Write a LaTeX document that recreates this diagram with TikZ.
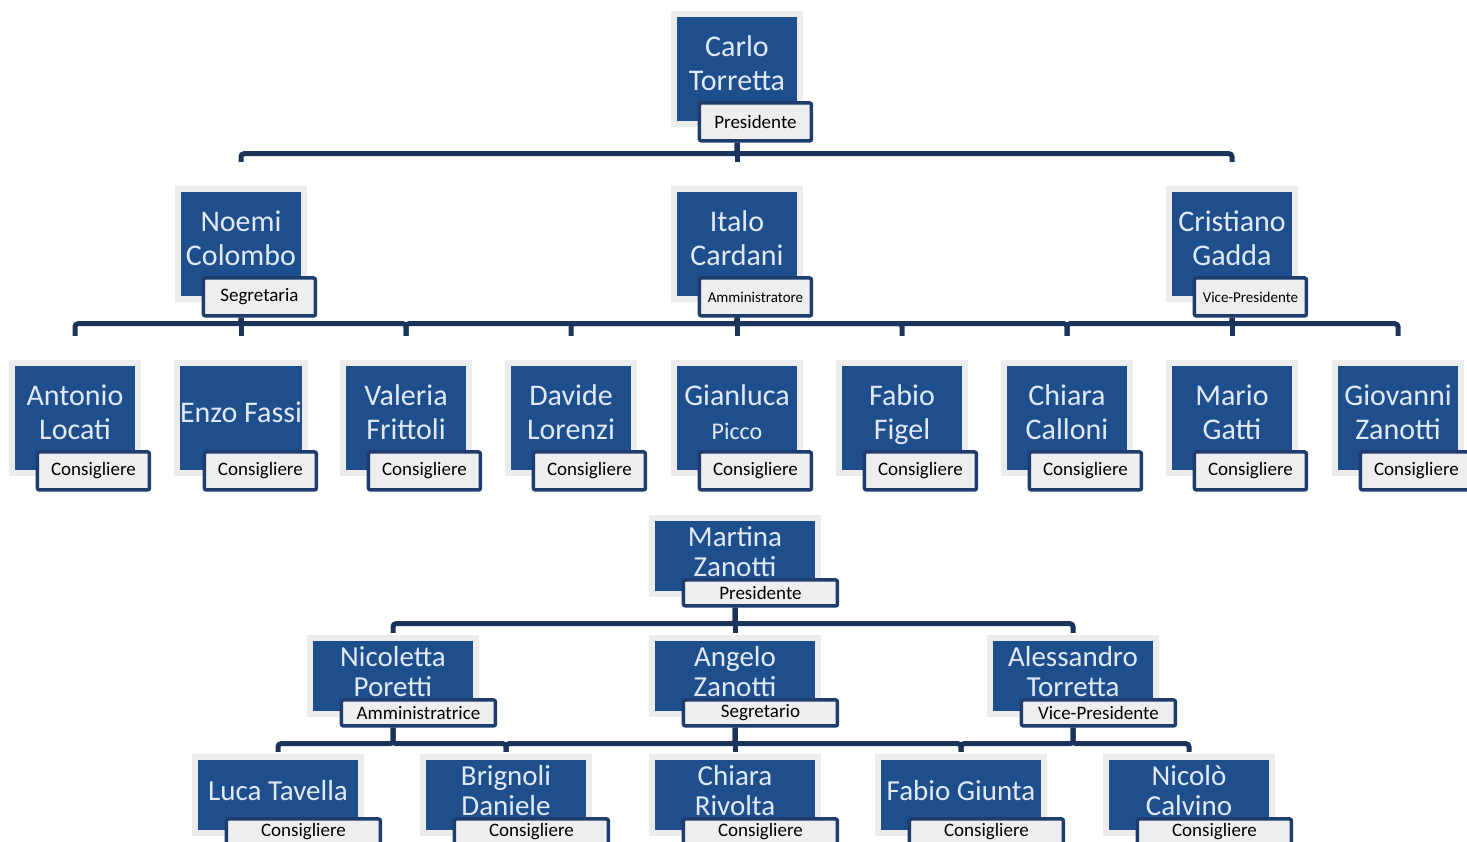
\documentclass[tikz,border=0pt]{standalone}
\usepackage{fontspec}
\setmainfont{Carlito}

\definecolor{boxblue}{RGB}{31,78,140}
\definecolor{namecol}{RGB}{224,234,247}
\definecolor{framegray}{RGB}{236,236,236}
\definecolor{rolegray}{RGB}{238,238,238}
\definecolor{rolenavy}{RGB}{30,60,108}
\definecolor{linenavy}{RGB}{28,52,92}

\begin{document}
\begin{tikzpicture}[
    x=1pt, y=-1pt,
    person/.style={fill=boxblue, text=namecol, inner sep=0pt, align=center,
      minimum width=120pt, minimum height=104pt, text depth=12pt,
      font=\fontsize{30}{34}\selectfont,
      preaction={draw=framegray, line width=12pt}},
    smallperson/.style={person, minimum width=160pt, minimum height=70pt,
      text depth=9pt, font=\fontsize{29}{30}\selectfont},
    rolebox/.style={draw=rolenavy, line width=3.5pt, fill=rolegray, rounded corners=2pt,
      anchor=north east, inner sep=0pt, font=\fontsize{19}{21}\selectfont},
    role/.style={rolebox, minimum width=112pt, minimum height=38pt,
      xshift=16pt, yshift=20pt},
    tinyrole/.style={role, font=\fontsize{15}{17}\selectfont},
    smallrole/.style={rolebox, minimum width=154pt, minimum height=26pt,
      xshift=24pt, yshift=13pt},
    link/.style={draw=linenavy, line width=5pt, rounded corners=3pt},
    longlink/.style={link, shorten >=30pt},
    shortlink/.style={link, shorten >=8pt}
  ]

  \useasboundingbox (0,0) rectangle (1467,841);

  \coordinate (carlop) at (737,69);

  \coordinate (noemip) at (241,244);
  \coordinate (italop) at (737,244);
  \coordinate (cristianop) at (1232,244);

  \coordinate (antoniop) at (75,418);
  \coordinate (enzop) at (241,418);
  \coordinate (valeriap) at (406,418);
  \coordinate (davidep) at (571,418);
  \coordinate (gianlucap) at (737,418);
  \coordinate (fabiop) at (902,418);
  \coordinate (chiarap) at (1067,418);
  \coordinate (mariop) at (1232,418);
  \coordinate (giovannip) at (1398,418);

  \coordinate (martinap) at (735,556);

  \coordinate (nicolettap) at (393,676);
  \coordinate (angelop) at (735,676);
  \coordinate (alessandrop) at (1073,676);

  \coordinate (lucap) at (278,795);
  \coordinate (brignolip) at (506,795);
  \coordinate (rivoltap) at (735,795);
  \coordinate (giuntap) at (961,795);
  \coordinate (nicolop) at (1189,795);

  % First board
  \node[person] (carlo) at (carlop) {Carlo\\Torretta};
  \node[role] (carlo-r) at (carlo.south east) {Presidente};

  \node[person] (noemi) at (noemip) {Noemi\\Colombo};
  \node[role] (noemi-r) at (noemi.south east) {Segretaria};
  \node[person] (italo) at (italop) {Italo\\Cardani};
  \node[tinyrole] (italo-r) at (italo.south east) {Amministratore};
  \node[person] (cristiano) at (cristianop) {Cristiano\\Gadda};
  \node[tinyrole] (cristiano-r) at (cristiano.south east) {Vice-Presidente};

  \node[person] (antonio) at (antoniop) {Antonio\\Locati};
  \node[role] (antonio-r) at (antonio.south east) {Consigliere};
  \node[person] (enzo) at (enzop) {Enzo Fassi};
  \node[role] (enzo-r) at (enzo.south east) {Consigliere};
  \node[person] (valeria) at (valeriap) {Valeria\\Frittoli};
  \node[role] (valeria-r) at (valeria.south east) {Consigliere};
  \node[person] (davide) at (davidep) {Davide\\Lorenzi};
  \node[role] (davide-r) at (davide.south east) {Consigliere};
  \node[person] (gianluca) at (gianlucap) {Gianluca\\{\fontsize{24}{28}\selectfont Picco}};
  \node[role] (gianluca-r) at (gianluca.south east) {Consigliere};
  \node[person] (fabio) at (fabiop) {Fabio\\Figel};
  \node[role] (fabio-r) at (fabio.south east) {Consigliere};
  \node[person] (chiara) at (chiarap) {Chiara\\Calloni};
  \node[role] (chiara-r) at (chiara.south east) {Consigliere};
  \node[person] (mario) at (mariop) {Mario\\Gatti};
  \node[role] (mario-r) at (mario.south east) {Consigliere};
  \node[person] (giovanni) at (giovannip) {Giovanni\\Zanotti};
  \node[role] (giovanni-r) at (giovanni.south east) {Consigliere};

  % Second board
  \node[smallperson] (martina) at (martinap) {Martina\\Zanotti};
  \node[smallrole] (martina-r) at (martina.south east) {Presidente};

  \node[smallperson] (nicoletta) at (nicolettap) {Nicoletta\\Poretti};
  \node[smallrole] (nicoletta-r) at (nicoletta.south east) {Amministratrice};
  \node[smallperson] (angelo) at (angelop) {Angelo\\Zanotti};
  \node[smallrole] (angelo-r) at (angelo.south east) {Segretario};
  \node[smallperson] (alessandro) at (alessandrop) {Alessandro\\Torretta};
  \node[smallrole] (alessandro-r) at (alessandro.south east) {Vice-Presidente};

  \node[smallperson] (luca) at (lucap) {Luca Tavella};
  \node[smallrole] (luca-r) at (luca.south east) {Consigliere};
  \node[smallperson] (brignoli) at (brignolip) {Brignoli\\Daniele};
  \node[smallrole] (brignoli-r) at (brignoli.south east) {Consigliere};
  \node[smallperson] (rivolta) at (rivoltap) {Chiara\\Rivolta};
  \node[smallrole] (rivolta-r) at (rivolta.south east) {Consigliere};
  \node[smallperson] (giunta) at (giuntap) {Fabio Giunta};
  \node[smallrole] (giunta-r) at (giunta.south east) {Consigliere};
  \node[smallperson] (nicolo) at (nicolop) {Nicolò\\Calvino};
  \node[smallrole] (nicolo-r) at (nicolo.south east) {Consigliere};

  % Connectors, first board
  \draw[longlink] (carlo.center |- carlo-r.south) -- ++(0,11) -| (noemi.north);
  \draw[longlink] (carlo.center |- carlo-r.south) -- (italo.north);
  \draw[longlink] (carlo.center |- carlo-r.south) -- ++(0,11) -| (cristiano.north);

  \draw[longlink] (noemi.center |- noemi-r.south) -- ++(0,6) -| (antonio.north);
  \draw[longlink] (noemi.center |- noemi-r.south) -- (enzo.north);
  \draw[longlink] (noemi.center |- noemi-r.south) -- ++(0,6) -| (valeria.north);

  \draw[longlink] (italo.center |- italo-r.south) -- ++(0,6) -| (valeria.north);
  \draw[longlink] (italo.center |- italo-r.south) -- ++(0,6) -| (davide.north);
  \draw[longlink] (italo.center |- italo-r.south) -- (gianluca.north);
  \draw[longlink] (italo.center |- italo-r.south) -- ++(0,6) -| (fabio.north);
  \draw[longlink] (italo.center |- italo-r.south) -- ++(0,6) -| (chiara.north);

  \draw[longlink] (cristiano.center |- cristiano-r.south) -- ++(0,6) -| (chiara.north);
  \draw[longlink] (cristiano.center |- cristiano-r.south) -- (mario.north);
  \draw[longlink] (cristiano.center |- cristiano-r.south) -- ++(0,6) -| (giovanni.north);

  % Connectors, second board
  \draw[shortlink] (martina.center |- martina-r.south) -- ++(0,16) -| (nicoletta.north);
  \draw[shortlink] (martina.center |- martina-r.south) -- (angelo.north);
  \draw[shortlink] (martina.center |- martina-r.south) -- ++(0,16) -| (alessandro.north);

  \draw[shortlink] (nicoletta.center |- nicoletta-r.south) -- ++(0,16) -| (luca.north);
  \draw[shortlink] (nicoletta.center |- nicoletta-r.south) -- ++(0,16) -| (brignoli.north);
  \draw[shortlink] (angelo.center |- angelo-r.south) -- ++(0,16) -| (brignoli.north);
  \draw[shortlink] (angelo.center |- angelo-r.south) -- (rivolta.north);
  \draw[shortlink] (angelo.center |- angelo-r.south) -- ++(0,16) -| (giunta.north);
  \draw[shortlink] (alessandro.center |- alessandro-r.south) -- ++(0,16) -| (giunta.north);
  \draw[shortlink] (alessandro.center |- alessandro-r.south) -- ++(0,16) -| (nicolo.north);

\end{tikzpicture}
\end{document}
